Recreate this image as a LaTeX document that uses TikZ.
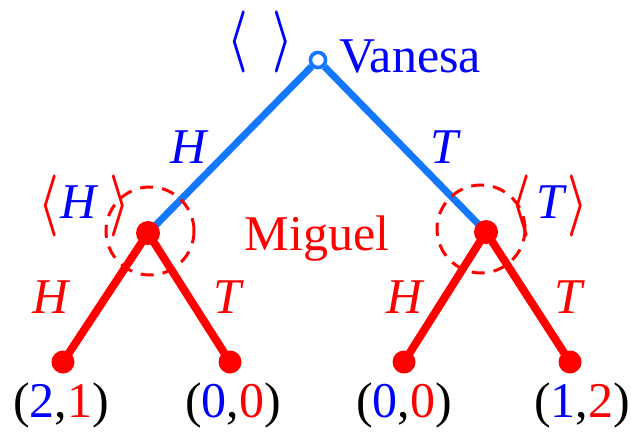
\documentclass[tikz,border=0pt]{standalone}
\usepackage{amsmath}
\usepackage{bm}
\usepackage{fontspec}
\setmainfont{Liberation Serif}
\usepackage{graphicx}
\definecolor{tblue}{RGB}{0,0,255}
\definecolor{lblue}{RGB}{20,120,255}
\definecolor{tred}{RGB}{255,0,0}
\tikzset{
  big/.style={font=\fontsize{50}{58}\selectfont, inner sep=0pt},
  lbl/.style={big, anchor=base},
  bedge/.style={draw=lblue, line width=7pt},
  redge/.style={draw=tred, line width=8pt},
  dot/.style={circle, fill=tred, minimum size=24pt, inner sep=0pt},
  leafdot/.style={circle, fill=tred, minimum size=23pt, inner sep=0pt},
  opendot/.style={circle, draw=lblue, fill=white, line width=3.5pt, minimum size=15pt, inner sep=0pt},
  infoset/.style={circle, draw=tred, line width=3pt, dash pattern=on 13pt off 9pt, minimum size=88pt, inner sep=0pt},
  brk/.style={inner sep=0pt}
}
\newcommand{\lbr}{\scalebox{4.6}[6.2]{$\bm{\langle}$}}
\newcommand{\rbr}{\scalebox{4.6}[6.2]{$\bm{\rangle}$}}
\begin{document}
\begin{tikzpicture}[x=1pt,y=-1pt]
\useasboundingbox (0,0) rectangle (631,432);
% nodes
\node[opendot] (root) at (318,60) {};
\coordinate (m1) at (148,233);
\coordinate (m2) at (486,232);
\coordinate (l1) at (63,362);
\coordinate (l2) at (230,362);
\coordinate (l3) at (404,362);
\coordinate (l4) at (570,362);
% edges
\draw[bedge] (root) -- (m1);
\draw[bedge] (root) -- (m2);
\draw[redge] (m1) -- (l1);
\draw[redge] (m1) -- (l2);
\draw[redge] (m2) -- (l3);
\draw[redge] (m2) -- (l4);
\node[opendot] at (root) {};
\node[dot] (d1) at (m1) {};
\node[dot] (d2) at (m2) {};
\node[leafdot] (e1) at (l1) {};
\node[leafdot] (e2) at (l2) {};
\node[leafdot] (e3) at (l3) {};
\node[leafdot] (e4) at (l4) {};
\node[infoset] (c1) at (150,231) {};
\node[infoset] (c2) at (481,229) {};
% player labels
\node[big, anchor=base west, text=tblue] (van) at (339,72) {Vanesa};
\node[lbl, text=tred] (mig) at (317,250) {Miguel};
% top brackets
\node[brk, text=tblue] (tb1) at (238,42) {\lbr};
\node[brk, text=tblue] (tb2) at (283,42) {\rbr};
% left info set label
\node[brk, text=tred] (lb1) at (49,206) {\lbr};
\node[lbl, text=tblue] (lh) at (80,218) {\textit{H}};
\node[brk, text=tred] (lb2) at (120,206) {\rbr};
% right info set label
\node[brk, text=tred] (rb1) at (521,206) {\lbr};
\node[lbl, text=tblue] (rt) at (552,218) {\textit{T}};
\node[brk, text=tred] (rb2) at (578,206) {\rbr};
% edge labels
\node[lbl, text=tblue] (eh) at (190,163) {\textit{H}};
\node[lbl, text=tblue] (et) at (446,163) {\textit{T}};
\node[lbl, text=tred] (eh1) at (52,313) {\textit{H}};
\node[lbl, text=tred] (et1) at (229,313) {\textit{T}};
\node[lbl, text=tred] (eh2) at (406,313) {\textit{H}};
\node[lbl, text=tred] (et2) at (570,313) {\textit{T}};
% payoffs
\node[lbl] (p1) at (61,417) {(\textcolor{tblue}{2},\textcolor{tred}{1})};
\node[lbl] (p2) at (233,417) {(\textcolor{tblue}{0},\textcolor{tred}{0})};
\node[lbl] (p3) at (404,417) {(\textcolor{tblue}{0},\textcolor{tred}{0})};
\node[lbl] (p4) at (582,417) {(\textcolor{tblue}{1},\textcolor{tred}{2})};
\end{tikzpicture}
\end{document}
